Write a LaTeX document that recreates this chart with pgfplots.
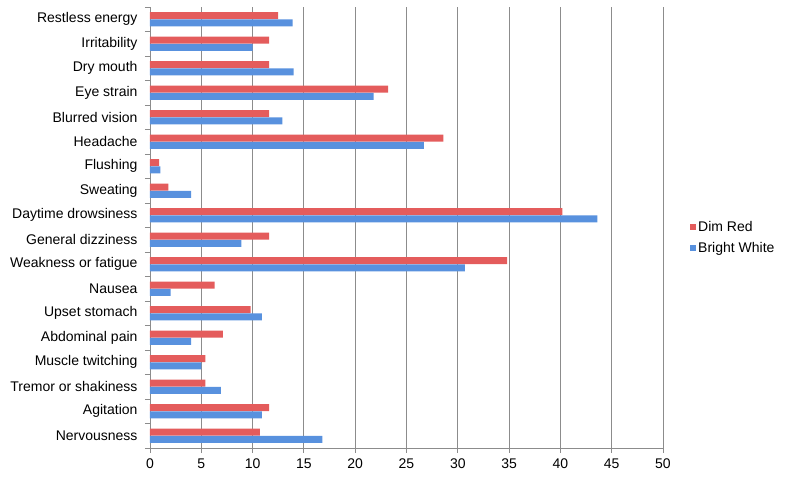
\documentclass[border=0pt]{standalone}
\usepackage{pgfplots}
\pgfplotsset{compat=1.18}
\usepackage{fontspec}
\setmainfont{Liberation Sans}
\definecolor{redmid}{RGB}{228,92,92}
\definecolor{bluemid}{RGB}{88,145,222}
\definecolor{gridgray}{RGB}{140,140,140}
\begin{document}
\begin{tikzpicture}
\begin{axis}[
  scale only axis,
  width=513pt, height=441pt,
  xmin=0, xmax=50,
  ymin=-0.5, ymax=17.5,
  xtick={0,5,...,50},
  ytick={0,...,17},
  yticklabels={Nervousness,Agitation,Tremor or shakiness,Muscle twitching,Abdominal pain,Upset stomach,Nausea,Weakness or fatigue,General dizziness,Daytime drowsiness,Sweating,Flushing,Headache,Blurred vision,Eye strain,Dry mouth,Irritability,Restless energy},
  minor ytick={-0.5,0.5,...,17.5},
  axis lines*=left,
  axis line style={gridgray, line width=0.8pt},
  xmajorgrids,
  major grid style={gridgray, line width=0.8pt},
  major x tick style={gridgray, line width=0.8pt},
  major y tick style={draw=none},
  minor y tick style={gridgray, line width=0.8pt},
  tick align=outside,
  major tick length=5pt,
  minor tick length=5pt,
  tick label style={font=\fontsize{14}{16}\selectfont},
  yticklabel style={xshift=-4pt},
  xticklabel style={yshift=-2pt},
  /pgf/number format/assume math mode=true,
  xbar,
  bar width=7pt,
  legend style={at={(1,0.5)}, anchor=west, xshift=27pt, yshift=-10pt, draw=none, fill=none,
    font=\fontsize{14}{16}\selectfont, row sep=5pt, inner sep=0pt},
  legend cell align=left,
  legend image code/.code={\path[#1,draw=none] (0pt,-3pt) rectangle (6pt,3pt);},
]
\addplot[draw=none, fill=redmid, bar shift=3.6pt] coordinates {
(10.7,0) (11.6,1) (5.4,2) (5.4,3) (7.1,4) (9.8,5) (6.3,6) (34.8,7) (11.6,8) (40.2,9) (1.8,10) (0.9,11) (28.6,12) (11.6,13) (23.2,14) (11.6,15) (11.6,16) (12.5,17)};
\addplot[draw=none, fill=bluemid, bar shift=-3.6pt] coordinates {
(16.8,0) (10.9,1) (6.9,2) (5.0,3) (4.0,4) (10.9,5) (2.0,6) (30.7,7) (8.9,8) (43.6,9) (4.0,10) (1.0,11) (26.7,12) (12.9,13) (21.8,14) (14.0,15) (10.0,16) (13.9,17)};
\legend{Dim Red, Bright White}
\end{axis}
\path (current axis.south west) ++(-150pt,-30pt) coordinate (bbA);
\path (current axis.north east) ++(123pt,7pt) coordinate (bbB);
\path[use as bounding box] (bbA) rectangle (bbB);
\end{tikzpicture}
\end{document}
